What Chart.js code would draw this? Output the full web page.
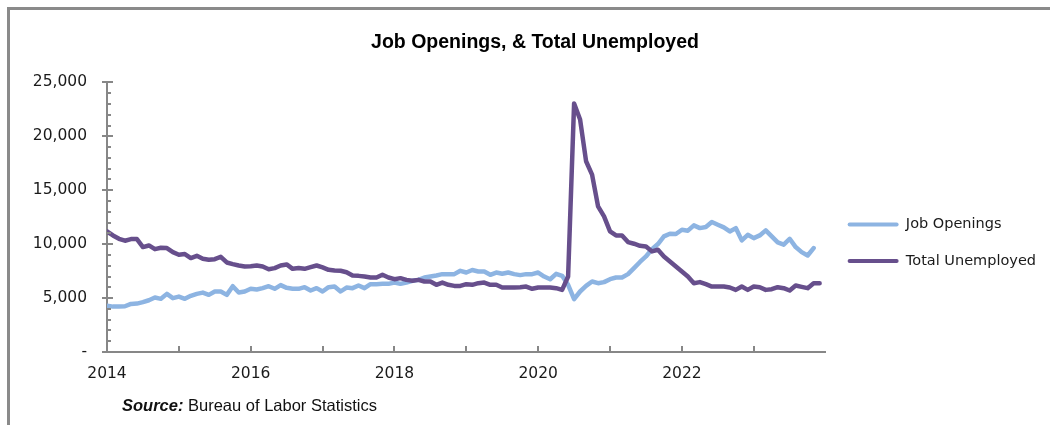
<!DOCTYPE html>
<html>
<head>
<meta charset="utf-8">
<script src="https://cdn.jsdelivr.net/npm/chart.js@4.4.0/dist/chart.umd.min.js"></script>
<style>
  body { margin: 0; background: #fff; }
  #wrap { position: relative; width: 1050px; height: 425px; overflow: hidden; }
  #frame { position: absolute; left: 7px; top: 7px; right: -5px; bottom: -5px; border-top: 3px solid #8a8a8a; border-left: 3px solid #8a8a8a; }
  #source { position: absolute; left: 122px; top: 396px; font: 16.5px/19px "Liberation Sans", sans-serif; color: #111; }
  #source b { font-style: italic; }
</style>
</head>
<body>
<div id="wrap">
  <canvas id="chart" width="1050" height="425"></canvas>
  <div id="frame"></div>
  <div id="source"><b>Source:</b> Bureau of Labor Statistics</div>
</div>
<script>
// monthly values, thousands (unemployed runs one month longer than openings)
const jobOpenings = [
  4300, 4210, 4210, 4240, 4460, 4490, 4620, 4800, 5050, 4930, 5390, 4990,
  5140, 4930, 5210, 5390, 5510, 5300, 5610, 5610, 5300, 6100, 5510, 5610,
  5860, 5790, 5920, 6100, 5860, 6200, 5950, 5860, 5860, 6010, 5700, 5920,
  5610, 6010, 6070, 5610, 5980, 5920, 6170, 5920, 6290, 6290, 6320, 6320,
  6440, 6320, 6440, 6600, 6690, 6910, 7000, 7090, 7220, 7220, 7220, 7530,
  7370, 7600, 7470, 7470, 7160, 7370, 7250, 7370, 7220, 7130, 7220, 7220,
  7370, 7000, 6750, 7250, 7060, 6230, 4900, 5610, 6130, 6540, 6380, 6480,
  6750, 6910, 6910, 7220, 7780, 8350, 8860, 9540, 10010, 10720, 10970, 10940,
  11340, 11250, 11740, 11490, 11590, 12050, 11800, 11560, 11180, 11490, 10350, 10870,
  10560, 10810, 11280, 10720, 10160, 9950, 10500, 9730, 9260, 8950, 9640
];
const totalUnemployed = [
  11180, 10810, 10500, 10320, 10470, 10470, 9730, 9880, 9540, 9670, 9640, 9260,
  9020, 9080, 8710, 8920, 8640, 8550, 8610, 8830, 8300, 8150, 8020, 7930,
  7960, 8020, 7930, 7680, 7780, 8020, 8120, 7710, 7780, 7710, 7870, 8020,
  7840, 7620, 7560, 7530, 7400, 7090, 7060, 7000, 6910, 6910, 7160, 6910,
  6750, 6850, 6690, 6600, 6690, 6540, 6540, 6230, 6440, 6230, 6130, 6130,
  6290, 6230, 6380, 6440, 6230, 6230, 5980, 5980, 5980, 6010, 6070, 5860,
  5980, 5980, 5980, 5920, 5760, 7000, 23050, 21560, 17690, 16450, 13510, 12580,
  11180, 10810, 10810, 10190, 10040, 9850, 9790, 9330, 9480, 8860, 8400, 7930,
  7470, 7000, 6380, 6480, 6290, 6070, 6070, 6070, 5980, 5760, 6070, 5760,
  6070, 6010, 5760, 5820, 6010, 5920, 5700, 6170, 6040, 5920, 6380, 6380
];
const yearLabels = ['2014', '2016', '2018', '2020', '2022'];
const yearLabelIndex = [0, 24, 48, 72, 96];

const axisColor = '#878787';
const textColor = '#1a1a1a';
const tickFont = { family: 'DejaVu Sans', size: 15.5 };

// tick marks drawn inside the axes, excel style (minor ticks on y)
const tickMarks = {
  id: 'tickMarks',
  afterDraw(chart) {
    const { ctx, chartArea, scales } = chart;
    ctx.save();
    ctx.strokeStyle = axisColor;
    ctx.lineWidth = 2;
    ctx.beginPath();
    for (let v = 0; v <= 25000; v += 1000) {
      const py = Math.round(scales.y.getPixelForValue(v));
      if (v % 5000 === 0) {
        ctx.moveTo(chartArea.left - 5, py);
        ctx.lineTo(chartArea.left + 6, py);
      } else {
        ctx.moveTo(chartArea.left, py);
        ctx.lineTo(chartArea.left + 4, py);
      }
    }
    for (let m = 12; m < 120; m += 12) {
      const px = Math.round(scales.x.getPixelForValue(m));
      ctx.moveTo(px, chartArea.bottom);
      ctx.lineTo(px, chartArea.bottom - 6);
    }
    ctx.stroke();
    ctx.restore();
  }
};

new Chart(document.getElementById('chart'), {
  type: 'line',
  data: {
    datasets: [
      {
        label: 'Total Unemployed',
        data: totalUnemployed.map((v, i) => ({ x: i, y: v })),
        borderColor: '#674f8c',
        backgroundColor: '#674f8c',
        borderWidth: 4.5,
        pointRadius: 0,
        tension: 0,
        borderJoinStyle: 'round',
        borderCapStyle: 'round'
      },
      {
        label: 'Job Openings',
        data: jobOpenings.map((v, i) => ({ x: i, y: v })),
        borderColor: '#8db4e2',
        backgroundColor: '#8db4e2',
        borderWidth: 4.5,
        pointRadius: 0,
        tension: 0,
        borderJoinStyle: 'round',
        borderCapStyle: 'round'
      }
    ]
  },
  options: {
    responsive: false,
    animation: false,
    layout: { padding: { left: 24, right: 4, top: 0, bottom: 0 } },
    plugins: {
      title: {
        display: true,
        text: 'Job Openings, & Total Unemployed',
        color: '#000',
        font: { family: 'Liberation Sans', size: 19.5, weight: 'bold' },
        padding: { top: 31, bottom: 28 }
      },
      legend: {
        position: 'right',
        reverse: true,
        maxWidth: 225,
        title: { display: true, text: '', font: { size: 12 }, padding: { top: 0, bottom: 46 } },
        labels: {
          boxWidth: 51,
          boxHeight: 4,
          padding: 22,
          color: textColor,
          font: { family: 'DejaVu Sans', size: 14.5 },
          generateLabels(chart) {
            const items = Chart.defaults.plugins.legend.labels.generateLabels(chart);
            items.forEach(it => { it.lineWidth = 0; it.fillStyle = it.strokeStyle; it.borderRadius = 2; });
            return items;
          }
        }
      },
      tooltip: { enabled: false }
    },
    scales: {
      x: {
        type: 'linear',
        min: 0,
        max: 120,
        afterBuildTicks: s => { s.ticks = yearLabelIndex.map(v => ({ value: v })); },
        afterFit: s => { s.height = 73; },
        ticks: {
          callback: (v, i) => yearLabels[i],
          color: textColor,
          font: tickFont,
          padding: 13,
          maxRotation: 0,
          autoSkip: false
        },
        grid: { display: false, drawTicks: false },
        border: { display: true, color: axisColor, width: 2 }
      },
      y: {
        min: 0,
        max: 25000,
        afterFit: s => { s.width = 83; },
        ticks: {
          stepSize: 5000,
          callback: v => v === 0 ? '-' : v.toLocaleString('en-US'),
          color: textColor,
          font: tickFont,
          padding: 20
        },
        grid: { display: false, drawTicks: false },
        border: { display: true, color: axisColor, width: 2 }
      }
    }
  },
  plugins: [tickMarks]
});
</script>
</body>
</html>
